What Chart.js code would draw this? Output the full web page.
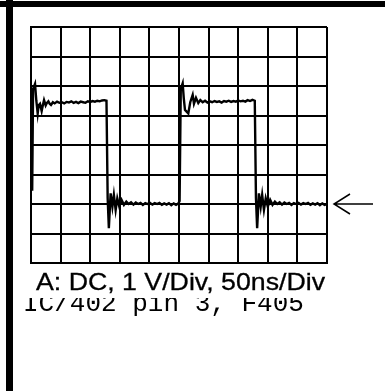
<!DOCTYPE html>
<html>
<head>
<meta charset="utf-8">
<script src="https://cdn.jsdelivr.net/npm/chart.js@4/dist/chart.umd.min.js"></script>
<style>
  html, body { margin: 0; padding: 0; background: #fff; }
  canvas { display: block; }
</style>
</head>
<body>
<canvas id="scope" width="385" height="391"></canvas>
<script>
// scope settings: 10 div x 50 ns, 8 div x 1 V, ground marker at 0 V
const timeDivs = 10;
const nsPerDiv = 50;
const voltMin = -2;
const voltMax = 6;
const groundLevel = 0;

const channelLabel = 'A: DC, 1 V/Div, 50ns/Div';
const probeLabel = 'IC/402 pin 3, F405';

// trace, time in ns and level in V
const traceTimes = [
    2, 3.5, 6.8, 9, 11.3, 13, 15.2, 18, 20, 22, 24.8, 27, 29.3, 31.5, 33.8,
    37, 40, 44, 48, 52, 56, 60, 64, 68, 72, 76, 80, 84, 88, 92, 96, 100,
    104, 108, 112, 116, 120, 124, 127.5,
    129.5, 131.5, 134.5, 137.5, 140, 143, 145.8, 149.2, 153, 157, 161, 165,
    169, 173, 177, 181, 185, 189, 193, 197, 201, 205, 209, 213, 217, 221,
    225, 229, 233, 237, 241, 245, 249, 251,
    253, 256.2, 258, 260.1, 265.7, 269, 273.1, 275.3, 278.7, 282.6, 286,
    290, 294, 298, 302, 306, 310, 314, 318, 322, 326, 330, 334, 338, 342,
    346, 350, 354, 358, 362, 366, 370, 374, 378,
    380, 382, 385, 388, 390.5, 393.5, 396.5, 400, 404, 408, 412, 416, 420,
    424, 428, 432, 436, 440, 444, 448, 452, 456, 460, 464, 468, 472, 476,
    480, 484, 488, 492, 496, 500
];
const traceVolts = [
    0.45, 3.9, 4.07, 3.5, 3.07, 3.35, 3.4, 3.15, 3.35, 3.52, 3.34, 3.43, 3.48, 3.4, 3.36,
    3.45, 3.41, 3.47, 3.43, 3.45, 3.41, 3.46, 3.44, 3.48, 3.43, 3.46, 3.42, 3.47, 3.45, 3.43, 3.48, 3.46,
    3.49, 3.47, 3.5, 3.48, 3.51, 3.52, 3.5,
    0.2, -0.82, 0.36, -0.09, 0.31, -0.2, 0.19, -0.09, 0.14, -0.03, 0.08, 0.0,
    0.06, -0.02, 0.05, 0.0, 0.04, -0.03, 0.03, 0.0, 0.04, -0.02, 0.03, 0.0, 0.04, -0.03,
    0.02, -0.02, 0.03, -0.04, 0.02, -0.03, 0.02, 0.1,
    3.9, 4.09, 3.6, 3.19, 3.07, 3.45, 3.7, 3.4, 3.6, 3.42, 3.52,
    3.45, 3.5, 3.44, 3.48, 3.45, 3.49, 3.46, 3.48, 3.44, 3.49, 3.47, 3.5, 3.46, 3.49,
    3.47, 3.51, 3.48, 3.5, 3.47, 3.52, 3.49, 3.53, 3.5,
    0.2, -0.82, 0.36, -0.09, 0.31, -0.2, 0.19, -0.09, 0.14, -0.03, 0.08, 0.0, 0.06,
    -0.02, 0.05, 0.0, 0.04, -0.03, 0.03, 0.0, 0.04, -0.02, 0.03, 0.0, 0.04, -0.03, 0.02,
    -0.02, 0.03, -0.04, 0.02, -0.03, 0.0
];

// frame, arrow and captions drawn on top of the chart
const scopeDecor = {
    id: 'scopeDecor',
    afterDraw(chart) {
        const ctx = chart.ctx;
        const y0 = chart.scales.y.getPixelForValue(groundLevel);
        const right = chart.chartArea.right;
        ctx.save();

        // second caption, partly hidden under the first one
        ctx.fillStyle = '#000';
        ctx.font = '26px "Liberation Mono", "Courier New", monospace';
        ctx.textBaseline = 'alphabetic';
        ctx.fillText(probeLabel, 23, 311);

        ctx.fillStyle = '#fff';
        ctx.fillRect(14, 266, 371, 32);

        // first caption, stretched to the measured width
        ctx.fillStyle = '#000';
        ctx.strokeStyle = '#000';
        ctx.lineWidth = 0.3;
        ctx.font = '24px "Liberation Sans", Arial, sans-serif';
        const w = ctx.measureText(channelLabel).width;
        ctx.save();
        ctx.translate(36, 290);
        ctx.scale(289 / w, 1);
        ctx.fillText(channelLabel, 0, 0);
        ctx.strokeText(channelLabel, 0, 0);
        ctx.restore();

        // ground arrow
        ctx.lineWidth = 1.5;
        ctx.beginPath();
        ctx.moveTo(right + 7, y0);
        ctx.lineTo(right + 46, y0);
        ctx.moveTo(right + 23, y0 - 10);
        ctx.lineTo(right + 7, y0);
        ctx.lineTo(right + 23, y0 + 10);
        ctx.stroke();

        // thick frame on top and left
        ctx.fillRect(0, 1, chart.width, 6);
        ctx.fillRect(6, 0, 7, chart.height);
        ctx.restore();
    }
};

new Chart(document.getElementById('scope'), {
    type: 'line',
    data: {
        datasets: [{
            data: traceTimes.map((t, i) => ({ x: t, y: traceVolts[i] })),
            borderColor: '#000',
            borderWidth: 2.4,
            pointRadius: 0,
            tension: 0
        }]
    },
    options: {
        responsive: false,
        animation: false,
        events: [],
        layout: {
            padding: { left: 31, top: 27, right: 58, bottom: 128 }
        },
        plugins: {
            legend: { display: false },
            tooltip: { enabled: false }
        },
        scales: {
            x: {
                type: 'linear',
                min: 0,
                max: timeDivs * nsPerDiv,
                ticks: { display: false, stepSize: nsPerDiv },
                grid: { color: '#000', lineWidth: 2, drawTicks: false },
                border: { color: '#000', width: 2 }
            },
            y: {
                min: voltMin,
                max: voltMax,
                ticks: { display: false, stepSize: 1 },
                grid: { color: '#000', lineWidth: 2, drawTicks: false },
                border: { color: '#000', width: 2 }
            }
        }
    },
    plugins: [scopeDecor]
});
</script>
</body>
</html>
